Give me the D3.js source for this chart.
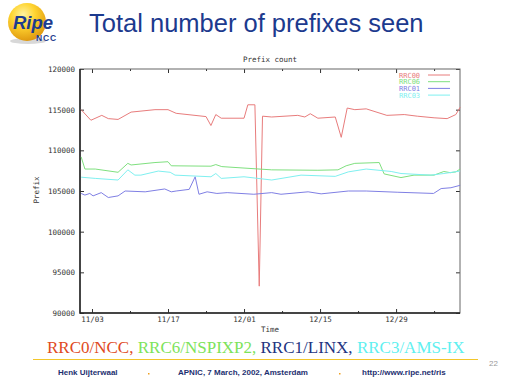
<!DOCTYPE html>
<html>
  <head>
    <meta charset="utf-8">
    <title>Total number of prefixes seen</title>
    <script type="text/javascript" src="https://cdn.jsdelivr.net/npm/d3@7"></script>
    <style>
      body { margin: 0; background: #fff; }
      svg { display: block; }
    </style>
  </head>
  <body>
    <script>

// canvas and plot box (the gnuplot frame inside the slide)
var w = 512;
var h = 384;
var plot = {left: 80, right: 460, top: 69, bottom: 313};

// data: days since 1 Nov 2001 and prefix counts
var rrc00Days   = [0, 1.8, 3.8, 5.0, 6.8, 9.2, 13.6, 16.0, 17.5, 23.0, 23.9, 24.8, 25.8, 30.0, 30.7, 32.0, 32.8, 33.4, 35.1, 39.9, 41.2, 42.2, 43.6, 46.8, 47.9, 49.0, 50.4, 52.5, 56.3, 59.5, 61.9, 65.0, 67.4, 69.0, 69.8];
var rrc00Values = [115000, 113700, 114300, 113900, 113800, 114700, 115000, 115000, 114550, 114150, 113050, 114400, 113950, 113950, 115600, 115600, 93300, 114200, 114100, 114300, 114100, 114500, 113950, 114100, 111600, 115200, 115000, 115100, 114300, 114400, 114200, 114000, 113900, 114400, 115300];

var rrc06Days   = [0, 0.7, 2.6, 6.8, 8.6, 9.2, 13.6, 16.0, 16.6, 23.9, 24.8, 25.9, 35.1, 43.6, 47.3, 48.8, 50.4, 54.9, 55.8, 58.9, 61.3, 65.0, 66.8, 68.0, 69.0, 69.8];
var rrc06Values = [109200, 107700, 107700, 107300, 108400, 108200, 108500, 108600, 108100, 108050, 108250, 108000, 107600, 107550, 107600, 108100, 108400, 108500, 107100, 106650, 106950, 106950, 107400, 107250, 107350, 107700];

var rrc01Days   = [0, 0.7, 1.6, 2.2, 3.7, 5.0, 6.8, 8.1, 11.8, 15.4, 16.6, 17.5, 19.9, 21.0, 21.7, 23.2, 25.0, 26.9, 31.8, 35.1, 36.8, 41.8, 44.2, 49.2, 52.5, 58.2, 64.9, 66.3, 68.1, 69.8];
var rrc01Values = [104700, 104500, 104700, 104400, 104800, 104200, 104400, 105000, 104900, 105250, 104900, 105000, 105200, 106750, 104600, 104900, 104700, 104800, 104600, 104800, 104600, 104900, 104650, 105000, 105000, 104850, 104700, 105300, 105400, 105700];

var rrc03Days   = [0, 2.6, 6.8, 8.6, 9.9, 11.0, 14.2, 16.4, 17.3, 23.9, 24.8, 25.8, 30.0, 35.1, 40.5, 46.8, 49.2, 52.5, 57.1, 58.9, 64.4, 66.8, 69.8];
var rrc03Values = [106700, 106550, 106350, 107600, 106950, 106950, 107450, 107300, 106950, 106750, 107150, 106550, 106750, 106350, 106950, 106800, 107350, 107700, 107400, 107150, 106950, 107150, 107450];

var seriesNames  = ["RRC00", "RRC06", "RRC01", "RRC03"];
var seriesColors = ["#e87c7c", "#7fe07f", "#7f7fe4", "#7ff0f0"];
var seriesDays   = [rrc00Days, rrc06Days, rrc01Days, rrc03Days];
var seriesValues = [rrc00Values, rrc06Values, rrc01Values, rrc03Values];

var yTicks = [90000, 95000, 100000, 105000, 110000, 115000, 120000];
var xMajorTicks = ["2001-11-03", "2001-11-17", "2001-12-01", "2001-12-15", "2001-12-29"];
var xMinorTicks = ["2001-11-10", "2001-11-24", "2001-12-08", "2001-12-22", "2002-01-05"];

// bottom caption
var captionParts  = ["RRC0/NCC, ", "RRC6/NSPIXP2, ", "RRC1/LINX, ", "RRC3/AMS-IX"];
var captionColors = ["#e04a22", "#7de35a", "#22337f", "#5ff0f0"];

var dayZero = new Date(2001, 10, 1);
var parseDay = d3.timeParse("%Y-%m-%d");
function toDate(d) { return new Date(dayZero.getTime() + d * 864e5); }

var svg = d3.select("body")
  .append("svg")
  .attr("width", w)
  .attr("height", h);

// ---- slide decoration ----
var defs = svg.append("defs");
var grad = defs.append("radialGradient")
  .attr("id", "ball")
  .attr("cx", "40%").attr("cy", "30%").attr("r", "70%");
grad.append("stop").attr("offset", "0%").attr("stop-color", "#fff3a0");
grad.append("stop").attr("offset", "45%").attr("stop-color", "#ffd430");
grad.append("stop").attr("offset", "100%").attr("stop-color", "#e09a10");

svg.append("ellipse")
  .attr("cx", 28).attr("cy", 41).attr("rx", 18).attr("ry", 3)
  .attr("fill", "#d8d8d8");
svg.append("circle")
  .attr("cx", 27).attr("cy", 22).attr("r", 19)
  .attr("fill", "url(#ball)");
svg.append("text")
  .attr("x", 13).attr("y", 29)
  .attr("font-family", "Liberation Sans, Arial, sans-serif")
  .attr("font-weight", "bold")
  .attr("font-style", "italic")
  .attr("font-size", "18.5px")
  .attr("fill", "#1d3b8e")
  .text("Ripe");
svg.append("text")
  .attr("x", 36).attr("y", 40.5)
  .attr("font-family", "Liberation Sans, Arial, sans-serif")
  .attr("font-weight", "bold")
  .attr("font-size", "8.5px")
  .attr("letter-spacing", "0.8px")
  .attr("fill", "#1d3b8e")
  .text("NCC");

svg.append("text")
  .attr("x", 89).attr("y", 32)
  .attr("font-family", "Liberation Sans, Arial, sans-serif")
  .attr("font-size", "25.5px")
  .attr("fill", "#1c3a8e")
  .text("Total number of prefixes seen");

// ---- scales ----
var xScale = d3.scaleTime()
  .domain([new Date(2001, 9, 31, 19), new Date(2002, 0, 9, 18, 30)])
  .range([plot.left, plot.right]);

var yScale = d3.scaleLinear()
  .domain([90000, 120000])
  .range([plot.bottom, plot.top]);

var monoFont = "DejaVu Sans Mono, monospace";
var fmt = d3.timeFormat("%m/%d");

// ---- axes ----
function styleAxis(g) {
  g.select(".domain").remove();
  g.selectAll("line").attr("stroke", "#333");
  g.selectAll("text")
    .attr("font-family", monoFont)
    .attr("font-size", "7.5px")
    .attr("fill", "#333");
}

svg.append("g")
  .attr("transform", "translate(" + plot.left + ",0)")
  .call(d3.axisLeft(yScale).tickValues(yTicks).tickSizeInner(-4).tickSizeOuter(0).tickPadding(5).tickFormat(d3.format("d")))
  .call(styleAxis);
svg.append("g")
  .attr("transform", "translate(" + plot.right + ",0)")
  .call(d3.axisRight(yScale).tickValues(yTicks).tickSizeInner(-4).tickSizeOuter(0).tickFormat(""))
  .call(styleAxis);

var majorDates = xMajorTicks.map(parseDay);
var minorDates = xMinorTicks.map(parseDay);

svg.append("g")
  .attr("transform", "translate(0," + plot.bottom + ")")
  .call(d3.axisBottom(xScale).tickValues(majorDates).tickSizeInner(-4).tickSizeOuter(0).tickPadding(4).tickFormat(fmt))
  .call(styleAxis);
svg.append("g")
  .attr("transform", "translate(0," + plot.bottom + ")")
  .call(d3.axisBottom(xScale).tickValues(minorDates).tickSizeInner(-2).tickSizeOuter(0).tickFormat(""))
  .call(styleAxis);
svg.append("g")
  .attr("transform", "translate(0," + plot.top + ")")
  .call(d3.axisTop(xScale).tickValues(majorDates).tickSizeInner(-4).tickSizeOuter(0).tickFormat(""))
  .call(styleAxis);
svg.append("g")
  .attr("transform", "translate(0," + plot.top + ")")
  .call(d3.axisTop(xScale).tickValues(minorDates).tickSizeInner(-2).tickSizeOuter(0).tickFormat(""))
  .call(styleAxis);

// frame: left/bottom drawn heavier like the original
svg.append("rect")
  .attr("x", plot.left).attr("y", plot.top)
  .attr("width", plot.right - plot.left).attr("height", plot.bottom - plot.top)
  .attr("fill", "none").attr("stroke", "#666").attr("stroke-width", 1);
svg.append("path")
  .attr("d", "M" + plot.left + "," + plot.top + "V" + plot.bottom + "H" + plot.right)
  .attr("fill", "none").attr("stroke", "#222").attr("stroke-width", 1.5);

// ---- series ----
var line = d3.line()
  .x(function(d){ return xScale(toDate(d[0])); })
  .y(function(d){ return yScale(d[1]); });

seriesNames.forEach(function(name, i) {
  var pts = d3.zip(seriesDays[i], seriesValues[i]);
  svg.append("path")
    .datum(pts)
    .attr("fill", "none")
    .attr("stroke", seriesColors[i])
    .attr("stroke-width", 1)
    .attr("d", line);
});

// ---- legend (top right, gnuplot style) ----
var legend = svg.append("g").attr("transform", "translate(399,75)");
seriesNames.forEach(function(name, i) {
  legend.append("text")
    .attr("x", 0).attr("y", i * 6.7 + 2.5)
    .attr("font-family", monoFont)
    .attr("font-size", "7px")
    .attr("fill", seriesColors[i])
    .text(name);
  legend.append("line")
    .attr("x1", 29).attr("x2", 51)
    .attr("y1", i * 6.7).attr("y2", i * 6.7)
    .attr("stroke", seriesColors[i]);
});

// ---- titles ----
svg.append("text")
  .attr("x", (plot.left + plot.right) / 2).attr("y", 62)
  .attr("text-anchor", "middle")
  .attr("font-family", monoFont).attr("font-size", "7.5px").attr("fill", "#333")
  .text("Prefix count");
svg.append("text")
  .attr("x", (plot.left + plot.right) / 2).attr("y", 332)
  .attr("text-anchor", "middle")
  .attr("font-family", monoFont).attr("font-size", "7.5px").attr("fill", "#333")
  .text("Time");
svg.append("text")
  .attr("transform", "translate(39,190) rotate(-90)")
  .attr("text-anchor", "middle")
  .attr("font-family", monoFont).attr("font-size", "7.5px").attr("fill", "#333")
  .text("Prefix");

// ---- caption, rule and footer ----
var caption = svg.append("text")
  .attr("x", 47).attr("y", 353)
  .attr("font-family", "Liberation Serif, Times New Roman, serif")
  .attr("font-size", "17px");
captionParts.forEach(function(t, i) {
  caption.append("tspan").attr("fill", captionColors[i]).text(t);
});

svg.append("line")
  .attr("x1", 33).attr("x2", 478)
  .attr("y1", 359.5).attr("y2", 359.5)
  .attr("stroke", "#f2c62a").attr("stroke-width", 1.2);

svg.append("text")
  .attr("x", 489).attr("y", 366)
  .attr("font-family", "Liberation Sans, Arial, sans-serif")
  .attr("font-size", "8px").attr("fill", "#999")
  .text("22");

var footer = [
  {x: 58, t: "Henk Uijterwaal"},
  {x: 178, t: "APNIC, 7 March, 2002, Amsterdam"},
  {x: 362, t: "http://www.ripe.net/ris"}
];
footer.forEach(function(f) {
  svg.append("text")
    .attr("x", f.x).attr("y", 375)
    .attr("font-family", "Liberation Sans, Arial, sans-serif")
    .attr("font-weight", "bold")
    .attr("font-size", "8px")
    .attr("fill", "#1d2f70")
    .text(f.t);
});
[148, 339].forEach(function(x) {
  svg.append("rect")
    .attr("x", x).attr("y", 373).attr("width", 1.5).attr("height", 1.5)
    .attr("fill", "#f0a020");
});

    </script>
  </body>
</html>
